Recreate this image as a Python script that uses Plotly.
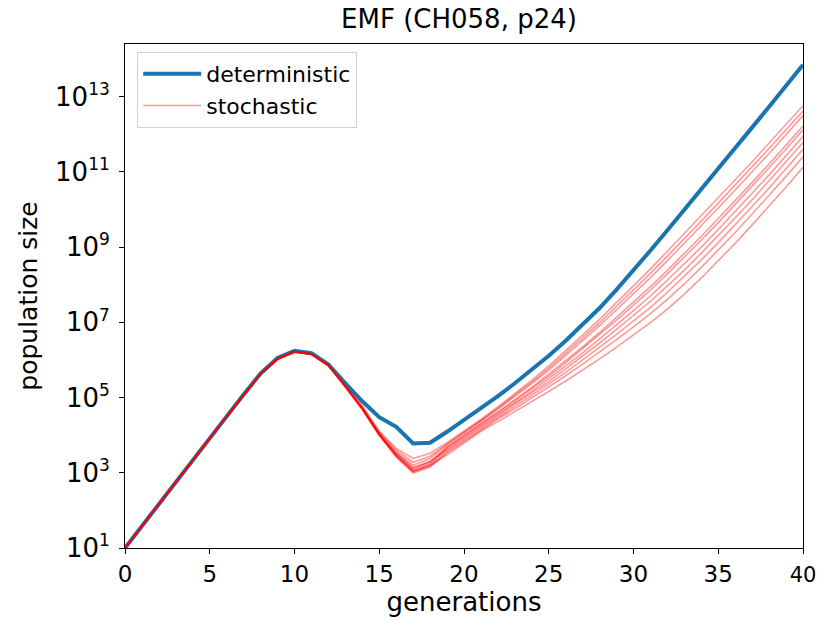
import plotly.graph_objects as go

# generations
generations = list(range(41))

# deterministic population size, stored as log10 values
det_log10 = [1.00, 1.59, 2.17, 2.76, 3.34, 3.92, 4.50, 5.08, 5.64, 6.05, 6.24,
             6.18, 5.88, 5.38, 4.90, 4.48, 4.22, 3.78, 3.80, 4.09, 4.40,
             4.71, 5.04, 5.38, 5.74, 6.11, 6.51, 6.93, 7.38, 7.87, 8.38,
             8.91, 9.45, 9.99, 10.53, 11.08, 11.63, 12.18, 12.73, 13.29, 13.85]

# stochastic runs (log10 population size)
stoch_A = [1.00, 1.59, 2.17, 2.76, 3.34, 3.92, 4.50, 5.08, 5.64, 6.04, 6.23,
           6.17, 5.87, 5.33, 4.78, 4.10, 3.65, 3.38, 3.52, 3.80, 4.10,
           4.42, 4.75, 5.10, 5.46, 5.84, 6.24, 6.66, 7.08, 7.52, 7.97,
           8.42, 8.89, 9.36, 9.83, 10.31, 10.79, 11.27, 11.76, 12.26, 12.76]
stoch_B = [1.00, 1.59, 2.17, 2.76, 3.34, 3.92, 4.50, 5.07, 5.63, 6.03, 6.22,
           6.16, 5.86, 5.31, 4.75, 4.08, 3.60, 3.28, 3.44, 3.77, 4.07,
           4.39, 4.72, 5.06, 5.41, 5.78, 6.17, 6.58, 6.99, 7.42, 7.86,
           8.30, 8.76, 9.22, 9.69, 10.17, 10.65, 11.13, 11.62, 12.12, 12.62]
stoch_C = [1.00, 1.59, 2.17, 2.76, 3.34, 3.92, 4.50, 5.07, 5.63, 6.02, 6.21,
           6.15, 5.86, 5.30, 4.72, 4.05, 3.55, 3.20, 3.38, 3.75, 4.05,
           4.37, 4.69, 5.02, 5.37, 5.73, 6.11, 6.51, 6.91, 7.33, 7.76,
           8.19, 8.64, 9.10, 9.57, 10.04, 10.52, 11.00, 11.49, 11.99, 12.50]
stoch_D = [1.00, 1.59, 2.17, 2.76, 3.34, 3.92, 4.50, 5.08, 5.63, 6.03, 6.22,
           6.16, 5.86, 5.29, 4.70, 4.02, 3.50, 3.12, 3.30, 3.69, 3.99,
           4.31, 4.62, 4.94, 5.27, 5.62, 5.98, 6.35, 6.73, 7.13, 7.54,
           7.95, 8.38, 8.83, 9.29, 9.76, 10.23, 10.72, 11.21, 11.71, 12.22]
stoch_E = [1.00, 1.59, 2.17, 2.76, 3.34, 3.92, 4.50, 5.07, 5.63, 6.04, 6.22,
           6.16, 5.87, 5.30, 4.71, 4.03, 3.48, 3.08, 3.26, 3.68, 3.98,
           4.30, 4.60, 4.91, 5.24, 5.57, 5.93, 6.30, 6.67, 7.06, 7.46,
           7.86, 8.29, 8.73, 9.19, 9.65, 10.13, 10.61, 11.11, 11.61, 12.12]
stoch_F = [1.00, 1.59, 2.17, 2.76, 3.34, 3.92, 4.49, 5.07, 5.62, 6.02, 6.21,
           6.15, 5.85, 5.28, 4.69, 4.00, 3.45, 3.04, 3.22, 3.64, 3.94,
           4.26, 4.55, 4.86, 5.17, 5.50, 5.84, 6.19, 6.55, 6.93, 7.31,
           7.70, 8.12, 8.55, 9.00, 9.47, 9.94, 10.43, 10.92, 11.43, 11.94]
stoch_G = [1.00, 1.59, 2.17, 2.76, 3.34, 3.92, 4.50, 5.08, 5.63, 6.03, 6.22,
           6.16, 5.86, 5.31, 4.73, 4.04, 3.52, 3.14, 3.30, 3.61, 3.91,
           4.23, 4.52, 4.81, 5.12, 5.43, 5.76, 6.10, 6.45, 6.81, 7.18,
           7.56, 7.97, 8.39, 8.84, 9.30, 9.78, 10.26, 10.76, 11.26, 11.78]
stoch_H = [1.00, 1.59, 2.17, 2.76, 3.34, 3.92, 4.50, 5.07, 5.62, 6.02, 6.21,
           6.15, 5.85, 5.28, 4.68, 3.99, 3.44, 3.02, 3.18, 3.57, 3.87,
           4.19, 4.47, 4.76, 5.06, 5.36, 5.67, 6.00, 6.33, 6.68, 7.04,
           7.40, 7.80, 8.22, 8.66, 9.12, 9.59, 10.08, 10.57, 11.08, 11.60]
stoch_I = [1.00, 1.59, 2.17, 2.76, 3.34, 3.92, 4.50, 5.08, 5.63, 6.03, 6.22,
           6.16, 5.86, 5.29, 4.70, 4.01, 3.42, 2.99, 3.15, 3.53, 3.83,
           4.15, 4.43, 4.70, 4.99, 5.28, 5.58, 5.89, 6.21, 6.54, 6.88,
           7.23, 7.61, 8.02, 8.46, 8.92, 9.39, 9.88, 10.37, 10.88, 11.40]
stoch_J = [1.00, 1.59, 2.17, 2.76, 3.34, 3.92, 4.50, 5.07, 5.63, 6.03, 6.22,
           6.16, 5.86, 5.30, 4.71, 4.02, 3.46, 3.05, 3.20, 3.48, 3.78,
           4.10, 4.36, 4.62, 4.89, 5.16, 5.44, 5.73, 6.03, 6.34, 6.66,
           6.99, 7.35, 7.75, 8.18, 8.63, 9.10, 9.59, 10.09, 10.60, 11.12]

stoch_runs = [stoch_A, stoch_B, stoch_C, stoch_D, stoch_E,
              stoch_F, stoch_G, stoch_H, stoch_I, stoch_J]

y_tick_exps = [1, 3, 5, 7, 9, 11, 13]
x_ticks = [0, 5, 10, 15, 20, 25, 30, 35, 40]
x_tick_labels = ["0", "5", "10", "15", "20", "25", "30", "35",
                 "<span style='font-size:21px'>40</span>"]

FONT = "DejaVu Sans"
BLUE = "#1a74ad"
RED = "rgba(255,0,0,0.4)"

fig = go.Figure()

fig.add_trace(go.Scatter(
    x=generations, y=[10 ** v for v in det_log10], mode="lines",
    line=dict(color=BLUE, width=4), name="deterministic",
    legendgroup="det", legendrank=1, showlegend=True))

for i, run in enumerate(stoch_runs):
    fig.add_trace(go.Scatter(
        x=generations, y=[10 ** v for v in run], mode="lines",
        line=dict(color=RED, width=1.6), name="stochastic",
        legendgroup="sto", legendrank=2, showlegend=(i == 0)))

fig.update_layout(
    width=817, height=620,
    margin=dict(l=125, r=14, t=44, b=72, autoexpand=False),
    paper_bgcolor="white", plot_bgcolor="white",
    font=dict(family=FONT, size=25, color="black"),
    title=dict(text="EMF (CH058, p24)", x=459 / 817, xanchor="center",
               y=1 - 19 / 620, yanchor="middle", font=dict(size=26, family=FONT)),
    showlegend=True,
    legend=dict(x=0.018, y=0.984, xanchor="left", yanchor="top",
                bgcolor="white", bordercolor="#d0d0d0", borderwidth=1,
                font=dict(size=22, family=FONT), tracegroupgap=0,
                itemwidth=58),
)

fig.update_xaxes(
    range=[0, 40], tickmode="array", tickvals=x_ticks,
    ticktext=x_tick_labels, ticklabeloverflow="allow",
    automargin=False,
    showgrid=False, zeroline=False, showline=True, linecolor="black",
    linewidth=1, mirror=True, ticks="outside", ticklen=5, tickcolor="black",
    tickfont=dict(size=23, family=FONT),
    title=dict(text="generations", font=dict(size=26, family=FONT), standoff=4),
)

fig.update_yaxes(
    type="log", range=[1, 14.40], tickmode="array",
    tickvals=[10 ** e for e in y_tick_exps],
    ticktext=["10<sup><span style='font-size:17px'>%d</span></sup>" % e
              for e in y_tick_exps],
    ticklabelstandoff=4, automargin=False,
    showgrid=False, zeroline=False, showline=True, linecolor="black",
    linewidth=1, mirror=True, ticks="outside", ticklen=5, tickcolor="black",
    tickfont=dict(size=26, family=FONT),
    title=dict(text="population size", font=dict(size=25, family=FONT), standoff=10),
)

fig.write_html("out.html")
